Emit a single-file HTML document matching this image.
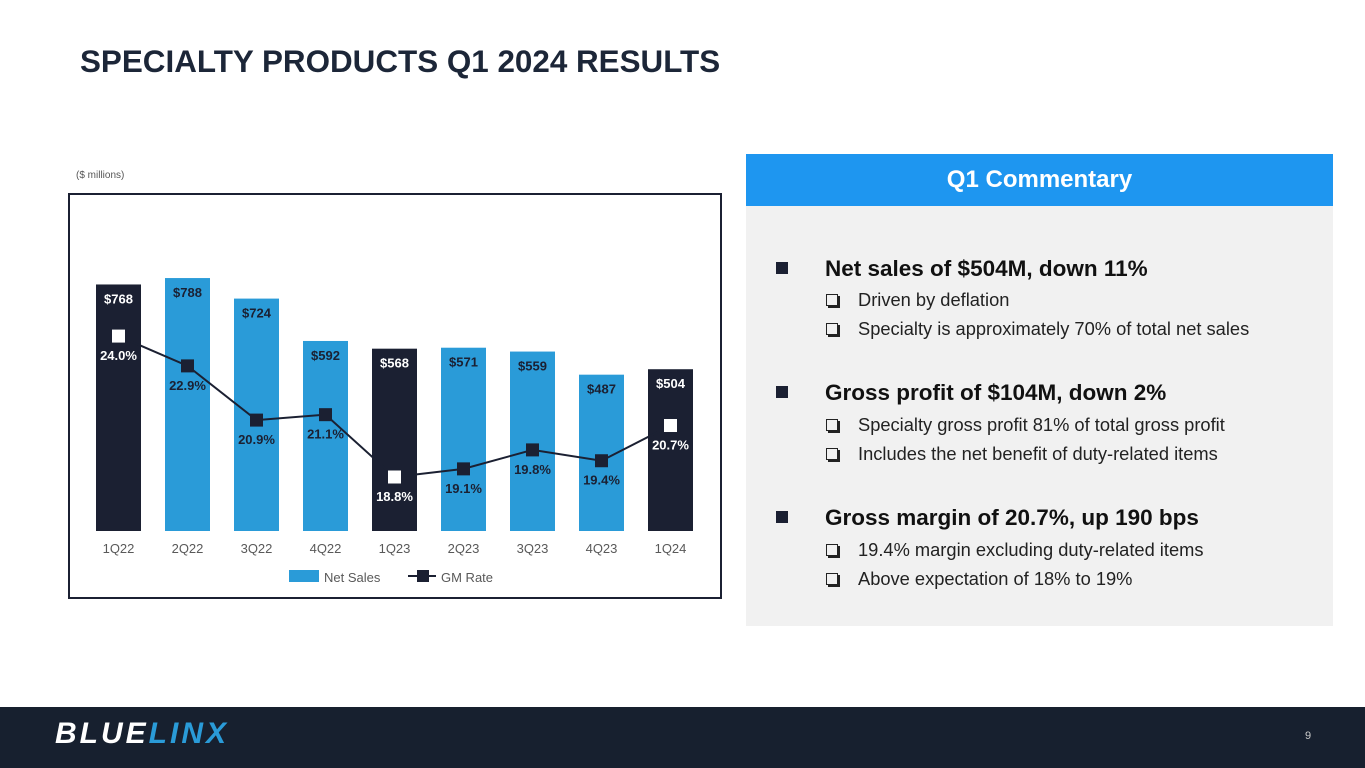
<!DOCTYPE html>
<html><head><meta charset="utf-8">
<style>
body{margin:0;width:1365px;height:768px;position:relative;background:#fff;font-family:"Liberation Sans",Arial,sans-serif;overflow:hidden}
.t{position:absolute;white-space:nowrap}
</style></head><body>
<div class="t" style="left:80px;top:44px;font-size:31.4px;font-weight:bold;color:#1c2638">SPECIALTY PRODUCTS Q1 2024 RESULTS</div>
<div class="t" style="left:76px;top:170px;font-size:10px;color:#555">($ millions)</div>
<svg id="chart" style="position:absolute;left:0;top:0" width="740" height="620"></svg>

<div style="position:absolute;left:746px;top:154px;width:587px;height:472px;background:#f1f1f1"></div>
<div style="position:absolute;left:746px;top:154px;width:587px;height:52px;background:#1e96f0;color:#fff;font-size:24px;font-weight:bold;text-align:center;line-height:52px">Q1 Commentary</div>
<div id="comm"></div>

<div style="position:absolute;left:0;top:707px;width:1365px;height:61px;background:#17202f"></div>
<div class="t" style="left:55px;top:717px;font-size:30px;font-weight:900;font-style:italic;letter-spacing:3px;color:#fff">BLUE<span style="color:#2a9bd8">LINX</span></div>
<div class="t" style="left:1305px;top:730px;font-size:11px;color:#ccc">9</div>

<script>
const categories=["1Q22","2Q22","3Q22","4Q22","1Q23","2Q23","3Q23","4Q23","1Q24"];
const netSales=[768,788,724,592,568,571,559,487,504];
const gmRate=[24.0,22.9,20.9,21.1,18.8,19.1,19.8,19.4,20.7];
const highlight=[true,false,false,false,true,false,false,false,true];
const NS="http://www.w3.org/2000/svg";
const svg=document.getElementById('chart');
function mk(tag,attrs){const e=document.createElementNS(NS,tag);for(const k in attrs)e.setAttribute(k,attrs[k]);svg.appendChild(e);return e;}
const xC=i=>118.5+i*69;
const yS=v=>531-v*0.321;
const yG=v=>477-(v-18.8)*27.1;
const DARK="#1b2032",BLUE="#2a9bd8";
let frame=mk('rect',{x:69,y:194,width:652,height:404,fill:'none',stroke:'#1b2032','stroke-width':2});


categories.forEach((c,i)=>{
 const r=mk('rect',{x:xC(i)-22.5,y:yS(netSales[i]),width:45,height:531-yS(netSales[i]),fill:highlight[i]?DARK:BLUE});
 
 
 const t=mk('text',{x:xC(i),y:yS(netSales[i])+19,'text-anchor':'middle','font-size':13,'font-weight':'bold',fill:highlight[i]?'#fff':DARK});
 t.textContent='$'+netSales[i];
 
 
 const x=mk('text',{x:xC(i),y:553,'text-anchor':'middle','font-size':13,fill:'#595959'});
 x.textContent=c;
 
 
});
const pts=gmRate.map((v,i)=>xC(i)+','+yG(v)).join(' ');
const line=mk('polyline',{points:pts,fill:'none',stroke:DARK,'stroke-width':2});


gmRate.forEach((v,i)=>{
 const m=mk('rect',{x:xC(i)-6.5,y:yG(v)-6.5,width:13,height:13,fill:highlight[i]?'#fff':DARK});
 
 
 const t=mk('text',{x:xC(i),y:yG(v)+24,'text-anchor':'middle','font-size':13,'font-weight':'bold',fill:highlight[i]?'#fff':DARK});
 t.textContent=v.toFixed(1)+'%';
 
 
});
let lg=mk('rect',{x:289,y:570,width:30,height:12,fill:BLUE});


let lt=mk('text',{x:324,y:582,'font-size':13,fill:'#595959'});lt.textContent='Net Sales';


let ll=mk('line',{x1:408,y1:576,x2:436,y2:576,stroke:DARK,'stroke-width':2});


let lm=mk('rect',{x:417,y:570,width:12,height:12,fill:DARK});


let lt2=mk('text',{x:441,y:582,'font-size':13,fill:'#595959'});lt2.textContent='GM Rate';



const items=[
 ['h',256,'Net sales of $504M, down 11%'],
 ['s',289,'Driven by deflation'],
 ['s',318,'Specialty is approximately 70% of total net sales'],
 ['h',380,'Gross profit of $104M, down 2%'],
 ['s',414,'Specialty gross profit 81% of total gross profit'],
 ['s',443,'Includes the net benefit of duty-related items'],
 ['h',505,'Gross margin of 20.7%, up 190 bps'],
 ['s',539,'19.4% margin excluding duty-related items'],
 ['s',568,'Above expectation of 18% to 19%']
];
const comm=document.getElementById('comm');
items.forEach((it,i)=>{
 const d=document.createElement('div');
 d.className='t';
 
 
 if(it[0]=='h'){
  d.style.cssText='left:776px;top:'+it[1]+'px;font-size:22.5px;font-weight:bold;color:#111';
  d.innerHTML='<span style="display:inline-block;width:12px;height:12px;background:#1b2032;margin-right:37px;vertical-align:2px"></span>'+it[2];
 } else {
  d.style.cssText='left:826px;top:'+it[1]+'px;font-size:18.3px;color:#222';
  d.innerHTML='<span style="display:inline-block;width:10px;height:10px;border:1.5px solid #222;box-shadow:2px 2px 0 #222;margin-right:20px;vertical-align:0px"></span>'+it[2];
 }
 comm.appendChild(d);
});
</script>
</body></html>
